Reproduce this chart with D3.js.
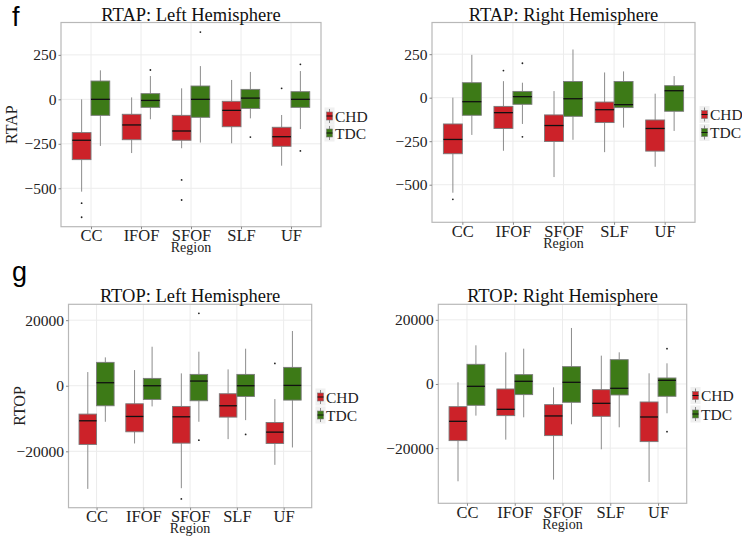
<!DOCTYPE html>
<html><head><meta charset="utf-8">
<script src="https://cdn.jsdelivr.net/npm/d3@7"></script>
<style>body{margin:0;background:#fff}svg{display:block}</style>
</head><body>
<script>
const regions = ["CC","IFOF","SFOF","SLF","UF"];
const groups = ["CHD","TDC"];
const groupColors = ["#cc2229","#3d7a17"];
// each box: [lower whisker, Q1, median, Q3, upper whisker]
const rtapLeftCHD = [[-519,-339,-230,-187,0],[-302,-227,-144,-84,11],[-275,-230,-178,-90,62],[-247,-154,-62,-11,109],[-373,-264,-210,-157,-88]];
const rtapLeftTDC = [[-262,-90,0,103,163],[-112,-45,-6,32,131],[-243,-101,0,75,187],[-107,-51,7,56,154],[-167,-45,0,43,159]];
const rtapLeftCHDOut = [[-584,-663],[],[-453,-566],[],[62]];
const rtapLeftTDCOut = [[],[165],[378],[-212],[197,-290]];

const rtapRightCHD = [[-546,-322,-240,-151,0],[-305,-177,-86,-50,95],[-456,-252,-160,-99,38],[-313,-143,-69,-25,145],[-397,-307,-177,-128,23]];
const rtapRightTDC = [[-214,-101,-23,86,246],[-151,-38,6,36,86],[-242,-107,-6,93,277],[-172,-57,-40,93,151],[-191,-78,40,69,124]];
const rtapRightCHDOut = [[-584],[156],[],[],[]];
const rtapRightTDCOut = [[],[198,-225],[],[],[]];

const rtopLeftCHD = [[-31460,-17900,-10690,-8650,4170],[-17610,-14050,-9370,-5500,4780],[-31250,-17510,-9470,-6310,3770],[-16290,-9570,-6110,-2440,4990],[-24130,-17610,-14150,-11200,-4070]];
const rtopLeftTDC = [[-10990,-6110,920,7130,8650],[-6310,-4170,0,2240,11900],[-10990,-4580,1430,3460,10380],[-10490,-3260,0,3460,11300],[-18830,-4380,100,5600,16700]];
const rtopLeftCHDOut = [[],[],[-34510],[],[6820]];
const rtopLeftTDCOut = [[],[],[22090,-16590],[-14860],[]];

const rtopRightCHD = [[-30340,-17660,-11640,-7070,520],[-17350,-9870,-7900,-1560,9870],[-29820,-16100,-9970,-6440,-1040],[-20360,-10080,-6030,-1770,8830],[-30550,-17970,-10290,-5610,3320]];
const rtopRightTDC = [[-9870,-6650,-730,6130,12050],[-10390,-3320,830,2910,11010],[-12570,-5710,520,5400,17460],[-13510,-3430,-1350,7580,9870],[-9140,-3840,1140,1870,6440]];
const rtopRightCHDOut = [[],[],[],[],[]];
const rtopRightTDCOut = [[],[],[],[],[11010,-14860]];

const rtapTicks = [-500,-250,0,250];
const rtopTicks = [-20000,0,20000];
const rtapDomain = [-716,432];
const rtopDomain = [-37200,24840];

const panels = [
  {title:"RTAP: Left Hemisphere", ylab:"RTAP", domain:rtapDomain, ticks:rtapTicks, data:[rtapLeftCHD,rtapLeftTDC], out:[rtapLeftCHDOut,rtapLeftTDCOut],
   l:61, r:321, t:22.5, b:226.7, legX:326, legY:[116,133], tag:"f"},
  {title:"RTAP: Right Hemisphere", ylab:null, domain:rtapDomain, ticks:rtapTicks, data:[rtapRightCHD,rtapRightTDC], out:[rtapRightCHDOut,rtapRightTDCOut],
   l:432, r:695, t:22.5, b:222.3, legX:701, legY:[114.5,132.5]},
  {title:"RTOP: Left Hemisphere", ylab:"RTOP", domain:rtopDomain, ticks:rtopTicks, data:[rtopLeftCHD,rtopLeftTDC], out:[rtopLeftCHDOut,rtopLeftTDCOut],
   l:68.5, r:311.7, t:304.3, b:507.7, legX:317, legY:[397,415], tag:"g"},
  {title:"RTOP: Right Hemisphere", ylab:null, domain:rtopDomain, ticks:rtopTicks, data:[rtopRightCHD,rtopRightTDC], out:[rtopRightCHDOut,rtopRightTDCOut],
   l:438.3, r:686.7, t:304.3, b:503.3, legX:692, legY:[395.5,414]}
];

const serif = "'Liberation Serif','Times New Roman',serif";
const svg = d3.select("body").append("svg").attr("width",742).attr("height",537);
const fmt = v => v < 0 ? "\u2212" + Math.abs(v) : String(v);

panels.forEach(p => {
  const g = svg.append("g");
  const step = (p.r - p.l) / 5.2;   // ggplot-style discrete expansion: 0.6 units each side
  const x = d3.scalePoint().domain(regions).range([p.l + 0.6*step, p.r - 0.6*step]);
  const y = d3.scaleLinear().domain(p.domain).range([p.b, p.t]);

  // grid
  g.selectAll(".hg").data(p.ticks).join("line")
    .attr("x1",p.l).attr("x2",p.r).attr("y1",d=>y(d)).attr("y2",d=>y(d))
    .attr("stroke","#ececec").attr("stroke-width",1);
  g.selectAll(".vg").data(regions).join("line")
    .attr("x1",d=>x(d)).attr("x2",d=>x(d)).attr("y1",p.t).attr("y2",p.b)
    .attr("stroke","#ececec").attr("stroke-width",1);

  const bw = step * 0.375;
  groups.forEach((grp, gi) => {
    const off = gi === 0 ? -bw : 0;
    const boxes = p.data[gi];
    regions.forEach((reg, ri) => {
      const s = boxes[ri];
      const x0 = x(reg) + off, cx = x0 + bw/2;
      g.append("line").attr("x1",cx).attr("x2",cx).attr("y1",y(s[4])).attr("y2",y(s[3]))
        .attr("stroke","#8c8c8c").attr("stroke-width",1);
      g.append("line").attr("x1",cx).attr("x2",cx).attr("y1",y(s[1])).attr("y2",y(s[0]))
        .attr("stroke","#8c8c8c").attr("stroke-width",1);
      g.append("rect").attr("x",x0).attr("width",bw)
        .attr("y",y(s[3])).attr("height",y(s[1])-y(s[3]))
        .attr("fill",groupColors[gi]).attr("stroke","#7a7a7a").attr("stroke-width",0.9);
      g.append("line").attr("x1",x0).attr("x2",x0+bw)
        .attr("y1",y(s[2])).attr("y2",y(s[2])).attr("stroke","#111").attr("stroke-width",1.3);
      p.out[gi][ri].forEach(o => {
        g.append("circle").attr("cx",cx).attr("cy",y(o)).attr("r",0.9).attr("fill","#222");
      });
    });
  });

  // border
  g.append("rect").attr("x",p.l).attr("y",p.t).attr("width",p.r-p.l).attr("height",p.b-p.t)
    .attr("fill","none").attr("stroke","#b8b8b8").attr("stroke-width",1.2);

  // y axis
  const ya = g.append("g").attr("transform",`translate(${p.l},0)`)
    .call(d3.axisLeft(y).tickValues(p.ticks).tickFormat(fmt).tickSize(2.5).tickPadding(2));
  ya.attr("font-family",null).attr("font-size",null);
  ya.select(".domain").remove();
  ya.selectAll("line").attr("stroke","#888");
  ya.selectAll("text").style("font-family",serif).style("font-size","15.5px").attr("fill","#222");

  // x axis
  const xa = g.append("g").attr("transform",`translate(0,${p.b})`)
    .call(d3.axisBottom(x).tickSize(2.5).tickPadding(0.5));
  xa.attr("font-family",null).attr("font-size",null);
  xa.select(".domain").remove();
  xa.selectAll("line").attr("stroke","#888");
  xa.selectAll("text").style("font-family",serif).style("font-size","16.5px").attr("fill","#222");

  g.append("text").attr("x",(p.l+p.r)/2).attr("y",p.b+25.5).attr("text-anchor","middle")
    .style("font-family",serif).style("font-size","14px").attr("fill","#222").text("Region");

  g.append("text").attr("x",(p.l+p.r)/2).attr("y",p.t-2).attr("text-anchor","middle")
    .style("font-family",serif).style("font-size","18.5px").attr("fill","#111").text(p.title);

  if (p.ylab) {
    const cy = (p.t+p.b)/2;
    g.append("text").attr("transform",`translate(${p.l-44},${cy}) rotate(-90)`)
      .attr("text-anchor","middle").style("font-family",serif).style("font-size","16px").attr("fill","#222").text(p.ylab);
  }

  // legend
  groups.forEach((grp, gi) => {
    const ly = p.legY[gi];
    g.append("rect").attr("x",p.legX-1.5).attr("y",ly-8.5).attr("width",10).attr("height",17).attr("fill","#f0f0f0");
    g.append("line").attr("x1",p.legX+3.5).attr("x2",p.legX+3.5).attr("y1",ly-7).attr("y2",ly+7).attr("stroke","#8c8c8c");
    g.append("rect").attr("x",p.legX+0.5).attr("y",ly-4).attr("width",6).attr("height",8)
      .attr("fill",groupColors[gi]).attr("stroke","#7a7a7a").attr("stroke-width",0.6);
    g.append("line").attr("x1",p.legX+0.5).attr("x2",p.legX+6.5).attr("y1",ly).attr("y2",ly).attr("stroke","#111");
    g.append("text").attr("x",p.legX+9).attr("y",ly+5.5).style("font-family",serif).style("font-size","15.5px")
      .attr("fill","#222").text(grp);
  });

  if (p.tag) {
    svg.append("text").attr("x",12).attr("y", p.tag==="f" ? 26 : 281)
      .style("font-family","'Liberation Sans','DejaVu Sans',sans-serif").style("font-size","27px").attr("fill","#000").text(p.tag);
  }
});
</script>
</body></html>
